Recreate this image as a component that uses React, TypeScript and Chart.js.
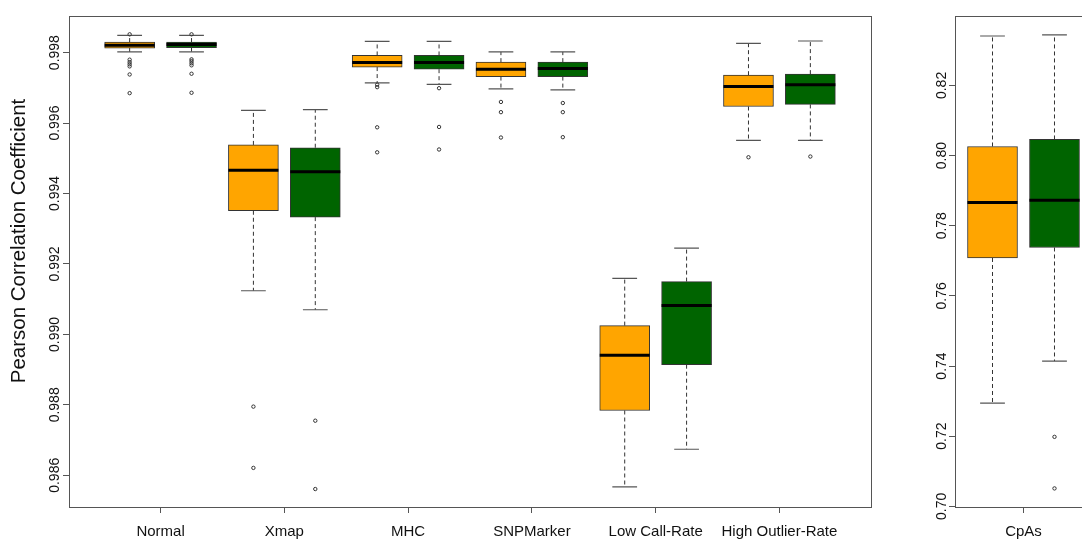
import React, { useEffect, useRef } from "react";
import { Chart, registerables } from "chart.js";

Chart.register(...registerables);

// ---- data -------------------------------------------------------------
const categories = ["Normal", "Xmap", "MHC", "SNPMarker", "Low Call-Rate", "High Outlier-Rate"];

// orange series: whisker ends, quartiles and medians per category
const orangeLow = [0.99802, 0.99124, 0.99714, 0.99697, 0.98567, 0.99551];
const orangeQ1 = [0.99813, 0.99351, 0.99759, 0.99732, 0.98784, 0.99647];
const orangeMedian = [0.99821, 0.99466, 0.99772, 0.99753, 0.98941, 0.99704];
const orangeQ3 = [0.9983, 0.99538, 0.99792, 0.99773, 0.99025, 0.99736];
const orangeHigh = [0.99849, 0.99636, 0.99832, 0.99802, 0.99159, 0.99826];
const orangeOutliers = [
  [0.99852, 0.9978, 0.99773, 0.99767, 0.99761, 0.99738, 0.99685],
  [0.98795, 0.98621],
  [0.99709, 0.99702, 0.99588, 0.99517],
  [0.9966, 0.99631, 0.99559],
  [],
  [0.99503],
];

// green series
const greenLow = [0.99802, 0.9907, 0.9971, 0.99694, 0.98674, 0.99551];
const greenQ1 = [0.99814, 0.99333, 0.99753, 0.99732, 0.98914, 0.99653];
const greenMedian = [0.99823, 0.99462, 0.99772, 0.99755, 0.99082, 0.99709];
const greenQ3 = [0.9983, 0.9953, 0.99792, 0.99773, 0.9915, 0.99739];
const greenHigh = [0.99849, 0.99638, 0.99832, 0.99802, 0.99245, 0.99833];
const greenOutliers = [
  [0.99852, 0.99781, 0.99776, 0.9977, 0.99764, 0.9974, 0.99686],
  [0.98755, 0.98561],
  [0.99699, 0.99589, 0.99525],
  [0.99657, 0.99631, 0.9956],
  [],
  [0.99505],
];

const leftTicks = [0.986, 0.988, 0.99, 0.992, 0.994, 0.996, 0.998];
const yTitle = "Pearson Correlation Coefficient";

// CpAs panel: [low whisker, Q1, median, Q3, high whisker]
const cpasCategory = ["CpAs"];
const cpasOrange = [0.7294, 0.7708, 0.7866, 0.8026, 0.8341];
const cpasGreen = [0.7414, 0.7738, 0.7873, 0.8046, 0.8344];
const cpasOrangeOutliers: number[] = [];
const cpasGreenOutliers = [0.7198, 0.7051];
const rightTicks = [0.7, 0.72, 0.74, 0.76, 0.78, 0.8, 0.82];

// ---- styling ----------------------------------------------------------
const FONT = "'Liberation Sans', Arial, Helvetica, sans-serif";
const ORANGE = "#FFA500";
const GREEN = "#006400";
const FRAME = "#555555";
const INK = "#111111";
const BOX_HALF = 0.404; // half box width in x units
const CAP_HALF = 0.2;

type Pt = { x: number; y: number | null };

function boxSeries(
  label: string,
  color: string,
  xs: number[],
  lo: number[],
  q1: number[],
  med: number[],
  q3: number[],
  hi: number[],
  outs: number[][]
) {
  const gap = (x: number): Pt => ({ x, y: null });
  const whiskers: Pt[] = [];
  const caps: Pt[] = [];
  const medians: Pt[] = [];
  const points: Pt[] = [];
  xs.forEach((x, i) => {
    whiskers.push({ x, y: q3[i] }, { x, y: hi[i] }, gap(x), { x, y: q1[i] }, { x, y: lo[i] }, gap(x));
    caps.push(
      { x: x - CAP_HALF, y: hi[i] },
      { x: x + CAP_HALF, y: hi[i] },
      gap(x),
      { x: x - CAP_HALF, y: lo[i] },
      { x: x + CAP_HALF, y: lo[i] },
      gap(x)
    );
    medians.push({ x: x - BOX_HALF, y: med[i] }, { x: x + BOX_HALF, y: med[i] }, gap(x));
    outs[i].forEach((v) => points.push({ x, y: v }));
  });
  return [
    {
      type: "bar" as const,
      label,
      data: xs.map((x, i) => ({ x, y: [q1[i], q3[i]] })),
      backgroundColor: color,
      borderColor: "#333333",
      borderWidth: 1,
      borderSkipped: false,
      barThickness: 50,
      grouped: false,
      order: 4,
    },
    {
      type: "line" as const,
      label: label + " whiskers",
      data: whiskers,
      borderColor: "#333333",
      borderWidth: 1,
      borderDash: [4, 3],
      pointRadius: 0,
      spanGaps: false,
      order: 3,
    },
    {
      type: "line" as const,
      label: label + " caps",
      data: caps,
      borderColor: "#555555",
      borderWidth: 1.2,
      pointRadius: 0,
      spanGaps: false,
      order: 2,
    },
    {
      type: "line" as const,
      label: label + " median",
      data: medians,
      borderColor: "#000000",
      borderWidth: 3,
      borderCapStyle: "butt",
      pointRadius: 0,
      spanGaps: false,
      order: 1,
    },
    {
      type: "scatter" as const,
      label: label + " outliers",
      data: points,
      pointStyle: "circle",
      pointRadius: 1.7,
      borderWidth: 1,
      borderColor: "#333333",
      backgroundColor: "rgba(0,0,0,0)",
      order: 0,
    },
  ];
}

// plot frame around the chart area
const framePlugin = {
  id: "frame",
  afterDatasetsDraw(chart: any) {
    const { ctx, chartArea: a } = chart;
    ctx.save();
    ctx.strokeStyle = FRAME;
    ctx.lineWidth = 1;
    ctx.strokeRect(Math.round(a.left) + 0.5, Math.round(a.top) + 0.5, Math.round(a.right - a.left), Math.round(a.bottom - a.top));
    ctx.restore();
  },
};

// rotated y-axis caption in the left margin
const yCaptionPlugin = {
  id: "yCaption",
  afterDraw(chart: any, _args: any, opts: any) {
    if (!opts || !opts.text) return;
    const { ctx } = chart;
    ctx.save();
    ctx.translate(opts.x, opts.y);
    ctx.rotate(-Math.PI / 2);
    ctx.fillStyle = INK;
    ctx.font = `${opts.size}px ${FONT}`;
    ctx.textAlign = "center";
    ctx.textBaseline = "middle";
    ctx.fillText(opts.text, 0, 0);
    ctx.restore();
  },
};

function makeOptions(o: {
  xMin: number;
  xMax: number;
  xTicks: number[];
  xLabels: string[];
  yMin: number;
  yMax: number;
  yTicks: number[];
  yDigits: number;
  yWidth: number;
  yPad: number;
  caption?: string;
  padRight: number;
}) {
  return {
    responsive: false,
    animation: false,
    devicePixelRatio: 1,
    layout: { padding: { top: 16, right: o.padRight, left: 0, bottom: 0 } },
    plugins: {
      legend: { display: false },
      tooltip: { enabled: false },
      yCaption: { text: o.caption || "", x: 19, y: 241, size: 20.5 },
    },
    scales: {
      x: {
        type: "linear",
        min: o.xMin,
        max: o.xMax,
        offset: false,
        bounds: "data",
        afterBuildTicks: (s: any) => {
          s.ticks = o.xTicks.map((v) => ({ value: v }));
        },
        afterFit: (s: any) => {
          s.height = 33;
        },
        grid: { drawOnChartArea: false, drawTicks: true, tickLength: 6, color: FRAME, offset: false },
        border: { display: true, color: FRAME, width: 1 },
        ticks: {
          autoSkip: false,
          maxRotation: 0,
          minRotation: 0,
          padding: 10,
          color: INK,
          font: { family: FONT, size: 15 },
          callback: (_v: any, i: number) => o.xLabels[i],
        },
      },
      y: {
        type: "linear",
        min: o.yMin,
        max: o.yMax,
        bounds: "data",
        afterBuildTicks: (s: any) => {
          s.ticks = o.yTicks.map((v) => ({ value: v }));
        },
        afterFit: (s: any) => {
          s.width = o.yWidth;
        },
        grid: { drawOnChartArea: false, drawTicks: true, tickLength: 6, color: FRAME },
        border: { display: true, color: FRAME, width: 1 },
        ticks: {
          minRotation: 90,
          maxRotation: 90,
          crossAlign: "center",
          padding: o.yPad,
          color: INK,
          font: { family: FONT, size: 14 },
          callback: (v: any) => Number(v).toFixed(o.yDigits),
        },
      },
    },
  };
}

export default function App() {
  const leftRef = useRef<HTMLCanvasElement | null>(null);
  const rightRef = useRef<HTMLCanvasElement | null>(null);

  useEffect(() => {
    const orangeX = categories.map((_, i) => 2 * i + 1);
    const greenX = categories.map((_, i) => 2 * i + 2);
    const labelX = categories.map((_, i) => 2 * i + 1.5);

    const left = new Chart(leftRef.current as HTMLCanvasElement, {
      type: "bar",
      data: {
        datasets: [
          ...boxSeries("orange", ORANGE, orangeX, orangeLow, orangeQ1, orangeMedian, orangeQ3, orangeHigh, orangeOutliers),
          ...boxSeries("green", GREEN, greenX, greenLow, greenQ1, greenMedian, greenQ3, greenHigh, greenOutliers),
        ] as any,
      },
      options: makeOptions({
        xMin: 0.02,
        xMax: 12.98,
        xTicks: labelX,
        xLabels: categories,
        yMin: 0.9851,
        yMax: 0.99904,
        yTicks: leftTicks,
        yDigits: 3,
        yWidth: 69,
        yPad: -10,
        caption: yTitle,
        padRight: 9,
      }) as any,
      plugins: [framePlugin, yCaptionPlugin],
    });

    const pick = (s: number[], k: number) => [s[k]];
    const right = new Chart(rightRef.current as HTMLCanvasElement, {
      type: "bar",
      data: {
        datasets: [
          ...boxSeries("orange", ORANGE, [1], pick(cpasOrange, 0), pick(cpasOrange, 1), pick(cpasOrange, 2), pick(cpasOrange, 3), pick(cpasOrange, 4), [cpasOrangeOutliers]),
          ...boxSeries("green", GREEN, [2], pick(cpasGreen, 0), pick(cpasGreen, 1), pick(cpasGreen, 2), pick(cpasGreen, 3), pick(cpasGreen, 4), [cpasGreenOutliers]),
        ] as any,
      },
      options: makeOptions({
        xMin: 0.395,
        xMax: 2.605,
        xTicks: [1.5],
        xLabels: cpasCategory,
        yMin: 0.6998,
        yMax: 0.8398,
        yTicks: rightTicks,
        yDigits: 2,
        yWidth: 75,
        yPad: -7,
        padRight: 8,
      }) as any,
      plugins: [framePlugin],
    });

    return () => {
      left.destroy();
      right.destroy();
    };
  }, []);

  return (
    <div
      style={{
        position: "fixed",
        left: 0,
        top: 0,
        width: 1082,
        height: 540,
        overflow: "hidden",
        background: "#ffffff",
      }}
    >
      <canvas ref={leftRef} width={880} height={540} style={{ position: "absolute", left: 0, top: 0 }} />
      <canvas ref={rightRef} width={220} height={540} style={{ position: "absolute", left: 880, top: 0 }} />
    </div>
  );
}
